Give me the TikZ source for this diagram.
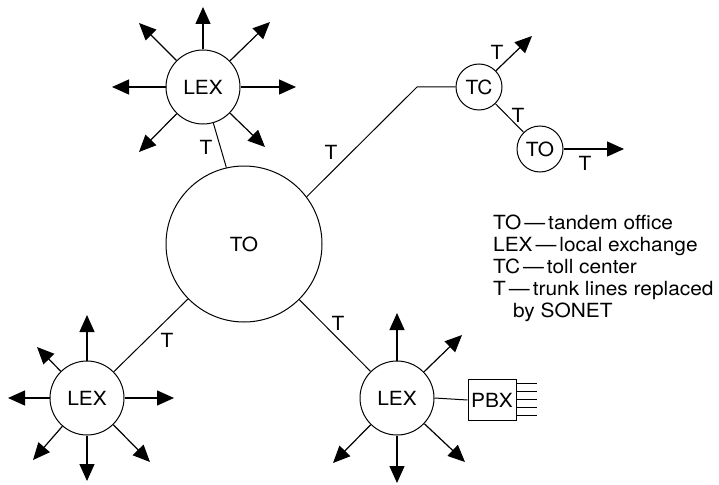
\documentclass[tikz,border=0pt]{standalone}
\usepackage{fontspec}
\setmainfont[FakeStretch=1.07]{TeX Gyre Heros}
\usetikzlibrary{arrows.meta}
\begin{document}
\begin{tikzpicture}[x=1pt,y=-1pt,
  every node/.style={font=\fontsize{19.5}{22}\selectfont},
  office/.style={circle,draw,line width=1pt,inner sep=0pt,fill=white},
  link/.style={line width=1pt},
  outarrow/.style={line width=1.2pt,-{Triangle[length=17pt,width=15pt]}},
  lab/.style={inner sep=0pt},
  leg/.style={anchor=base west,inner sep=0pt}]
\useasboundingbox (0,0) rectangle (719,484);
% nodes
\node[office,minimum size=156pt] (to) at (244,244) {TO};
\node[office,minimum size=74pt] (lex1) at (203,87) {LEX};
\node[office,minimum size=74pt] (lex2) at (87,398) {LEX};
\node[office,minimum size=74pt] (lex3) at (397,398) {LEX};
\node[office,minimum size=46pt] (tc) at (479,87) {TC};
\node[office,minimum size=46pt] (to2) at (540,149) {TO};
\node[draw,line width=1pt,minimum width=48pt,minimum height=41pt,inner sep=0pt] (pbx) at (492,400) {PBX};
% trunk links
\coordinate (bend) at (417,87);
\draw[link] (to.37) -- (bend) -- (tc.west);
\draw[link] (to.103) -- (lex1.-74);
\draw[link] (to) -- (lex2);
\draw[link] (to) -- (lex3);
\draw[link] (tc) -- (to2);
\draw[link] (lex3.east) -- (pbx.west);
% PBX lines
\foreach \i/\yy in {1/383.5,2/391.5,3/399.5,4/407.5,5/415.5}{
  \coordinate (pl\i) at (537,\yy);
  \draw[link] (pbx.east |- pl\i) -- (pl\i);
}
% top LEX arrows
\coordinate (a1) at (203,7);
\coordinate (a2) at (139,23);
\coordinate (a3) at (270,22);
\coordinate (a4) at (112,87);
\coordinate (a5) at (296,87);
\coordinate (a6) at (139,152);
\coordinate (a7) at (265,147);
\foreach \c in {a1,a2,a3,a4,a5,a6,a7}{\draw[outarrow] (lex1) -- (\c);}
% bottom-left LEX arrows
\coordinate (b1) at (87,315);
\coordinate (b2) at (37,347);
\coordinate (b3) at (8,398);
\coordinate (b4) at (174,398);
\coordinate (b5) at (87,481);
\coordinate (b6) at (33,460);
\coordinate (b7) at (150,462);
\foreach \c in {b1,b2,b3,b4,b5,b6,b7}{\draw[outarrow] (lex2) -- (\c);}
% bottom-right LEX arrows
\coordinate (c1) at (397,313);
\coordinate (c2) at (462,335);
\coordinate (c3) at (465,462);
\coordinate (c4) at (397,483);
\coordinate (c5) at (333,463);
\foreach \c in {c1,c2,c3,c4,c5}{\draw[outarrow] (lex3) -- (\c);}
% TC and TO arrows
\coordinate (d1) at (532,36);
\draw[outarrow] (tc) -- (d1);
\coordinate (d2) at (624,149);
\draw[outarrow] (to2) -- (d2);
% T labels
\node[lab] (t1) at (206,147) {T};
\node[lab] (t2) at (331,152) {T};
\node[lab] (t3) at (167,340) {T};
\node[lab] (t4) at (338,323) {T};
\node[lab] (t5) at (497,52) {T};
\node[lab] (t6) at (518,115) {T};
\node[lab] (t7) at (585,163) {T};
% legend
\node[leg] (g1) at (493,229) {TO\kern3pt—\kern3pt tandem office};
\node[leg] (g2) at (493,251) {LEX\kern3pt—\kern3pt local exchange};
\node[leg] (g3) at (493,273) {TC\kern3pt—\kern3pt toll center};
\node[leg] (g4) at (493,295) {T\kern3pt—\kern3pt trunk lines replaced};
\node[leg] (g5) at (513,317) {by SONET};
\end{tikzpicture}
\end{document}
